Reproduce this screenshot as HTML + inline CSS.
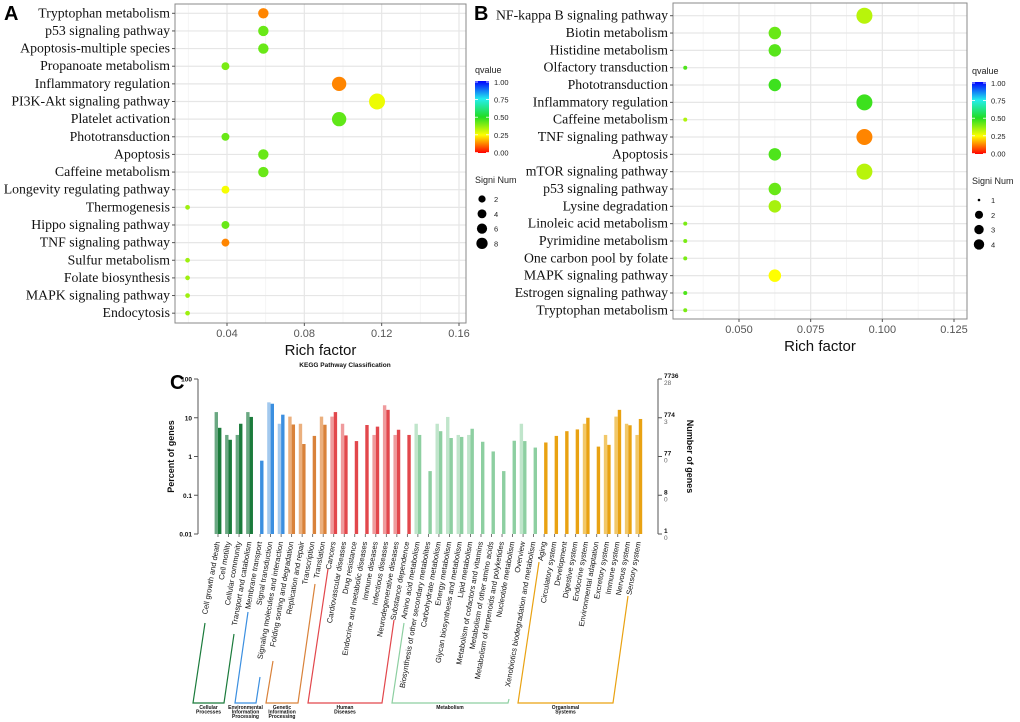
<!DOCTYPE html>
<html><head><meta charset="utf-8">
<style>
html,body{margin:0;padding:0;background:#fff;}
svg{display:block;}
.lab{font-family:"Liberation Serif",serif;font-size:13.8px;fill:#111;}
.tick{font-family:"Liberation Sans",sans-serif;font-size:11px;fill:#555;}
.ttl{font-family:"Liberation Sans",sans-serif;font-size:15px;fill:#111;}
.leg{font-family:"Liberation Sans",sans-serif;font-size:9px;fill:#222;}
.legs{font-family:"Liberation Sans",sans-serif;font-size:7.5px;fill:#222;}
.pl{font-family:"Liberation Sans",sans-serif;font-size:20px;font-weight:bold;fill:#000;}
.cl{font-family:"Liberation Sans",sans-serif;font-size:7.6px;fill:#111;}
.cax{font-family:"Liberation Sans",sans-serif;font-size:6.5px;font-weight:bold;fill:#111;}
.cg{font-family:"Liberation Sans",sans-serif;font-size:5px;font-weight:bold;fill:#111;}
</style></head>
<body>
<svg id="fig" width="1020" height="722" viewBox="0 0 1020 722" xmlns="http://www.w3.org/2000/svg">
<defs>
<linearGradient id="qgrad" x1="0" y1="1" x2="0" y2="0">
<stop offset="0" stop-color="#ff0000"/><stop offset="0.25" stop-color="#ffff00"/>
<stop offset="0.5" stop-color="#22dd22"/><stop offset="0.75" stop-color="#22eeee"/>
<stop offset="1" stop-color="#0000ff"/></linearGradient>
</defs>
</svg>
<script>
// ---------- Panel A data ----------
const aPathways=["Tryptophan metabolism","p53 signaling pathway","Apoptosis-multiple species","Propanoate metabolism","Inflammatory regulation","PI3K-Akt signaling pathway","Platelet activation","Phototransduction","Apoptosis","Caffeine metabolism","Longevity regulating pathway","Thermogenesis","Hippo signaling pathway","TNF signaling pathway","Sulfur metabolism","Folate biosynthesis","MAPK signaling pathway","Endocytosis"];
const aRich=[0.0588,0.0588,0.0588,0.0392,0.098,0.1176,0.098,0.0392,0.0588,0.0588,0.0392,0.0196,0.0392,0.0392,0.0196,0.0196,0.0196,0.0196];
const aNum=[3,3,3,2,5,6,5,2,3,3,2,1,2,2,1,1,1,1];
const aQ=[0.13,0.42,0.42,0.40,0.13,0.27,0.43,0.42,0.42,0.42,0.26,0.36,0.42,0.13,0.36,0.36,0.36,0.36];
const aTicks=[0.04,0.08,0.12,0.16];
const aLegNum=[2,4,6,8];
// ---------- Panel B data ----------
const bPathways=["NF-kappa B signaling pathway","Biotin metabolism","Histidine metabolism","Olfactory transduction","Phototransduction","Inflammatory regulation","Caffeine metabolism","TNF signaling pathway","Apoptosis","mTOR signaling pathway","p53 signaling pathway","Lysine degradation","Linoleic acid metabolism","Pyrimidine metabolism","One carbon pool by folate","MAPK signaling pathway","Estrogen signaling pathway","Tryptophan metabolism"];
const bRich=[0.09375,0.0625,0.0625,0.03125,0.0625,0.09375,0.03125,0.09375,0.0625,0.09375,0.0625,0.0625,0.03125,0.03125,0.03125,0.0625,0.03125,0.03125];
const bNum=[3,2,2,1,2,3,1,3,2,3,2,2,1,1,1,2,1,1];
const bQ=[0.33,0.42,0.44,0.45,0.47,0.47,0.34,0.13,0.45,0.33,0.42,0.35,0.40,0.40,0.40,0.25,0.45,0.40];
const bTicks=[0.05,0.075,0.1,0.125];
const bTickLabels=["0.050","0.075","0.100","0.125"];
const bLegNum=[1,2,3,4];
// ---------- Panel C data ----------
const cCats=["Cell growth and death","Cell motility","Cellular community","Transport and catabolism","Membrane transport","Signal transduction","Signaling molecules and interaction","Folding sorting and degradation","Replication and repair","Transcription","Translation","Cancers","Cardiovascular diseases","Drug resistance","Endocrine and metabolic diseases","Immune diseases","Infectious diseases","Neurodegenerative diseases","Substance dependence","Amino acid metabolism","Biosynthesis of other secondary metabolites","Carbohydrate metabolism","Energy metabolism","Glycan biosynthesis and metabolism","Lipid metabolism","Metabolism of cofactors and vitamins","Metabolism of other amino acids","Metabolism of terpenoids and polyketides","Nucleotide metabolism","Overview","Xenobiotics biodegradation and metabolism","Aging","Circulatory system","Development","Digestive system","Endocrine system","Environmental adaptation","Excretory system","Immune system","Nervous system","Sensory system"];
const cGroup=[0,0,0,0,1,1,1,2,2,2,2,3,3,3,3,3,3,3,3,4,4,4,4,4,4,4,4,4,4,4,4,5,5,5,5,5,5,5,5,5,5];
const cLight=[14,3.6,3.6,14,0,25,7,10.7,7,0,10.7,10.7,7,0,0,3.6,21,3.6,0,7,0,7,10.5,3.6,3.6,0,0,0,0,7,0,0,0,0,0,7,0,3.6,10.7,7,3.6];
const cDark=[5.5,2.7,7,10.5,0.78,23,12,6.7,2.1,3.4,6.6,14,3.5,2.5,6.5,5.9,16,4.9,3.6,3.6,0.42,4.5,3,3.2,5.2,2.4,1.35,0.42,2.55,2.5,1.7,2.3,3.4,4.5,5,10,1.8,2,16,6.4,9.3];
const cGroupNames=[["Cellular","Processes"],["Environmental","Information","Processing"],["Genetic","Information","Processing"],["Human","Diseases"],["Metabolism"],["Organismal","Systems"]];
const cLeftTicks=[100,10,1,0.1,0.01];
const cRightTicks=[["7736","28"],["774","3"],["77","0"],["8","0"],["1","0"]];

const NS="http://www.w3.org/2000/svg";
const svg=document.getElementById('fig');
function mk(tag,attrs,parent,text){const e=document.createElementNS(NS,tag);for(const k in attrs)e.setAttribute(k,attrs[k]);if(text!==undefined)e.textContent=text;(parent||svg).appendChild(e);return e;}
function lerp(a,b,t){return a+(b-a)*t;}
function qColor(q){
  const stops=[[0,[255,0,0]],[0.25,[255,255,0]],[0.5,[34,221,34]],[0.75,[34,238,238]],[1,[0,0,255]]];
  for(let i=0;i<stops.length-1;i++){if(q<=stops[i+1][0]){const t=(q-stops[i][0])/(stops[i+1][0]-stops[i][0]);const c=stops[i][1].map((v,j)=>Math.round(lerp(v,stops[i+1][1][j],t)));return `rgb(${c})`;}}
  return 'rgb(0,0,255)';
}

function dotPanel(cfg){
  const g=mk('g',{});
  
  
  const x=v=>cfg.x0+(v-cfg.d0)/(cfg.d1-cfg.d0)*(cfg.x1-cfg.x0);
  const y=i=>cfg.yFirst+i*cfg.yStep;
  mk('rect',{x:cfg.bx0,y:cfg.by0,width:cfg.bx1-cfg.bx0,height:cfg.by1-cfg.by0,fill:'#fff'},g);
  cfg.minor.forEach(v=>mk('line',{x1:x(v),x2:x(v),y1:cfg.by0,y2:cfg.by1,stroke:'#f2f2f2','stroke-width':0.8},g));
  cfg.ticks.forEach(v=>mk('line',{x1:x(v),x2:x(v),y1:cfg.by0,y2:cfg.by1,stroke:'#e6e6e6','stroke-width':1.2},g));
  cfg.paths.forEach((p,i)=>mk('line',{x1:cfg.bx0,x2:cfg.bx1,y1:y(i),y2:y(i),stroke:'#e6e6e6','stroke-width':1.2},g));
  const frame=mk('rect',{x:cfg.bx0,y:cfg.by0,width:cfg.bx1-cfg.bx0,height:cfg.by1-cfg.by0,fill:'none',stroke:'#8a8a8a','stroke-width':1},g);
  
  
  cfg.paths.forEach((p,i)=>{
    mk('line',{x1:cfg.bx0-3,x2:cfg.bx0,y1:y(i),y2:y(i),stroke:'#555','stroke-width':1},g);
    const t=mk('text',{x:cfg.bx0-5,y:y(i)+4,'text-anchor':'end',class:'lab'},g,p);
    
    
  });
  cfg.ticks.forEach((v,i)=>{
    mk('line',{x1:x(v),x2:x(v),y1:cfg.by1,y2:cfg.by1+3,stroke:'#555','stroke-width':1},g);
    const t=mk('text',{x:x(v),y:cfg.by1+14,'text-anchor':'middle',class:'tick'},g,cfg.tickLabels[i]);
    
    
  });
  const xt=mk('text',{x:(cfg.bx0+cfg.bx1)/2,y:cfg.by1+32,'text-anchor':'middle',class:'ttl'},g,'Rich factor');
  
  
  cfg.rich.forEach((v,i)=>{
    const c=mk('circle',{cx:x(v),cy:y(i),r:cfg.rad(cfg.num[i]),fill:qColor(cfg.q[i])},g);
    
    
  });
  const L=cfg.leg;
  const lt=mk('text',{x:L.x,y:L.y,class:'leg'},g,'qvalue');
  
  
  const cb=mk('rect',{x:L.x,y:L.y+8,width:14,height:72,fill:'url(#qgrad)'},g);
  
  
  ["1.00","0.75","0.50","0.25","0.00"].forEach((s,k)=>{
    const yy=L.y+9+k*17.6;
    mk('line',{x1:L.x,x2:L.x+3,y1:yy,y2:yy,stroke:'#fff','stroke-width':0.8},g);
    mk('line',{x1:L.x+11,x2:L.x+14,y1:yy,y2:yy,stroke:'#fff','stroke-width':0.8},g);
    mk('text',{x:L.x+19,y:yy+3,class:'legs'},g,s);
  });
  const st=mk('text',{x:L.x,y:L.y+110,class:'leg'},g,'Signi Num');
  
  
  cfg.legNum.forEach((n,k)=>{
    const yy=L.y+126+k*14.8;
    const c=mk('circle',{cx:L.x+7,cy:yy,r:cfg.legRad(n),fill:'#000'},g);
    
    
    mk('text',{x:L.x+19,y:yy+3,class:'legs'},g,String(n));
  });
  const pl=mk('text',{x:cfg.plx,y:20,class:'pl'},g,cfg.panel);
  
  
}

dotPanel({name:'panel-a-dotplot',panel:'A',plx:4,paths:aPathways,rich:aRich,num:aNum,q:aQ,
  d0:0.04,d1:0.16,x0:227,x1:459,bx0:175,bx1:466,by0:4,by1:323,yFirst:13.3,yStep:17.64,
  ticks:aTicks,tickLabels:["0.04","0.08","0.12","0.16"],minor:[0.02,0.06,0.10,0.14],
  rad:n=>3.9*Math.sqrt(n)-1.55,legNum:aLegNum,legRad:n=>1.6+1.3*Math.sqrt(n)*1.1,
  leg:{x:475,y:73}});
dotPanel({name:'panel-b-dotplot',panel:'B',plx:474,paths:bPathways,rich:bRich,num:bNum,q:bQ,
  d0:0.05,d1:0.125,x0:739,x1:954,bx0:673,bx1:967,by0:3,by1:319,yFirst:15.7,yStep:17.33,
  ticks:bTicks,tickLabels:bTickLabels,minor:[0.0375,0.0625,0.0875,0.1125],
  rad:n=>2+6*Math.sqrt((n-1)/2),legNum:bLegNum,legRad:n=>n===1?1.3:1.3+2.7*Math.sqrt((n-1)/3)+1.2,
  leg:{x:972,y:74}});

// ---------- Panel C ----------
(function(){
  const g=mk('g',{});
  
  
  const pl=mk('text',{x:170,y:389,class:'pl'},g,'C');
  
  
  const tt=mk('text',{x:345,y:367,'text-anchor':'middle',class:'cax'},g,'KEGG Pathway Classification');
  
  
  const yTop=379,yBot=534,axL=198,axR=658;
  const y=v=>yBot-(Math.log10(v)+2)/4*(yBot-yTop);
  const xc=i=>218+i*10.52;
  const dark=['#1b7b3b','#3b8fe0','#d9823a','#e2474c','#8dcfa1','#e9a212'];
  const light=['#6aa882','#a3c9ee','#ebb07e','#ef9b9d','#c0e5cb','#f2c869'];
  mk('line',{x1:axL,x2:axL,y1:yTop,y2:yBot,stroke:'#555','stroke-width':1},g);
  mk('line',{x1:axR,x2:axR,y1:yTop,y2:yBot,stroke:'#555','stroke-width':1},g);
  cLeftTicks.forEach(v=>{
    mk('line',{x1:axL-4,x2:axL,y1:y(v),y2:y(v),stroke:'#555'},g);
    const t=mk('text',{x:axL-6,y:y(v)+2.5,'text-anchor':'end',class:'cax'},g,String(v));
    
    
  });
  cRightTicks.forEach((p,k)=>{
    const yy=y(cLeftTicks[k]);
    mk('line',{x1:axR,x2:axR+4,y1:yy,y2:yy,stroke:'#555'},g);
    mk('text',{x:axR+6,y:yy-1,class:'cax'},g,p[0]);
    mk('text',{x:axR+6,y:yy+6,class:'cax',style:'font-weight:normal;fill:#666'},g,p[1]);
  });
  const yl=mk('text',{x:0,y:0,transform:`translate(174,${(yTop+yBot)/2}) rotate(-90)`,'text-anchor':'middle',class:'cax',style:'font-size:9px'},g,'Percent of genes');
  
  
  const yr=mk('text',{x:0,y:0,transform:`translate(687,${(yTop+yBot)/2}) rotate(90)`,'text-anchor':'middle',class:'cax',style:'font-size:9px'},g,'Number of genes');
  
  
  cCats.forEach((c,i)=>{
    const gi=cGroup[i];
    if(cLight[i]>0){
      const b=mk('rect',{x:xc(i)-3.4,y:y(cLight[i]),width:3.4,height:yBot-y(cLight[i]),fill:light[gi]},g);
      
      
    }
    const b2=mk('rect',{x:xc(i),y:y(cDark[i]),width:3.4,height:yBot-y(cDark[i]),fill:dark[gi]},g);
    
    
    mk('line',{x1:xc(i),x2:xc(i),y1:yBot,y2:yBot+3,stroke:'#555','stroke-width':0.8},g);
    const t=mk('text',{x:0,y:0,transform:`translate(${xc(i)+2},${yBot+8}) rotate(-80)`,'text-anchor':'end',class:'cl'},g,c);
    
    
  });
  const brackets=[
    [[205,623],[193,703],[224,703],[234,634]],
    [[248,612],[235,703],[256,703],[260,677]],
    [[273,661],[266,703],[298,703],[315,584]],
    [[328,569],[308,703],[382,703],[394,620]],
    [[404,623],[392,703],[508,703],[509,699]],
    [[539,562],[518,703],[613,703],[628,596]]];
  brackets.forEach((b,k)=>{
    const p=mk('polyline',{points:b.map(q=>q.join(',')).join(' '),fill:'none',stroke:dark[k],'stroke-width':1.2},g);
    
    
    const cx=(b[1][0]+b[2][0])/2;
    cGroupNames[k].forEach((s,j)=>{
      const t=mk('text',{x:cx,y:709+j*4.6,'text-anchor':'middle',class:'cg'},g,s);
      
      
    });
  });
})();
</script>
</body></html>
